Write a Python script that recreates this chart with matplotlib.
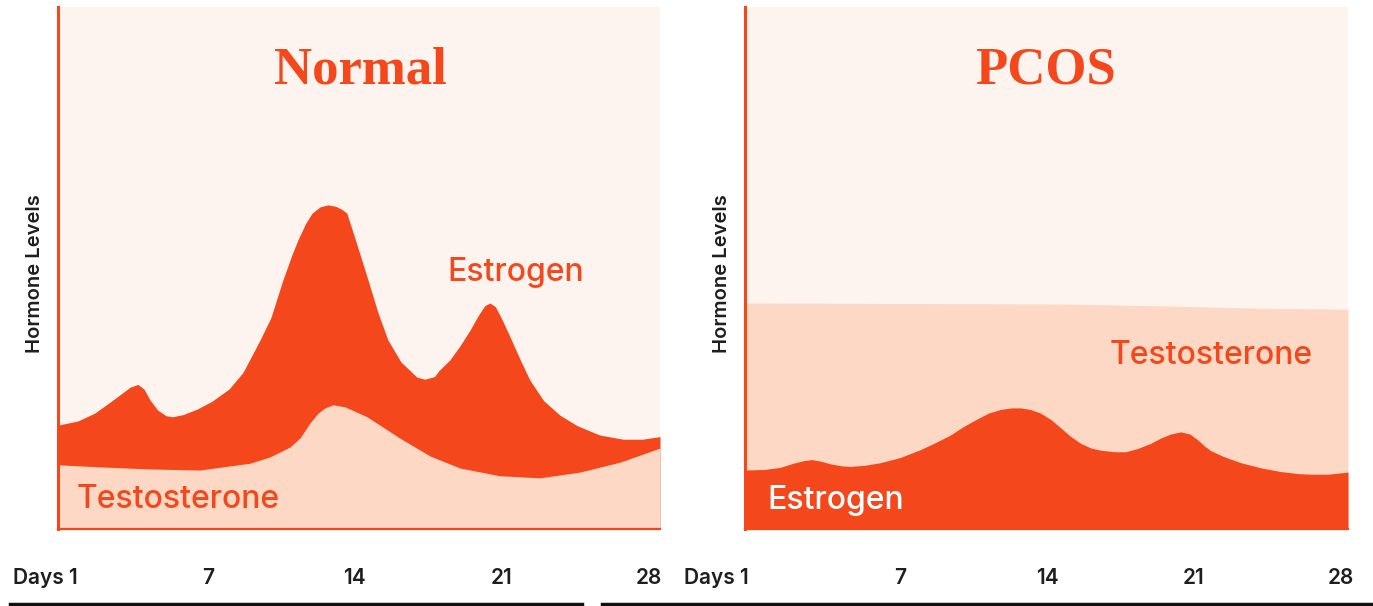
import matplotlib.pyplot as plt
from matplotlib.lines import Line2D
import matplotlib.transforms as mtransforms

# colours
ORANGE = "#F4481C"
PEACH = "#FCD8C5"
BG = "#FEF4EF"

# ---- Normal cycle ----
normal_e_days = [-0.15, 0.8, 1.6, 2.33, 2.9, 3.3, 3.66, 3.95, 4.24, 4.6, 5.0, 5.3, 5.8, 6.5,
                 7.2, 8.0, 8.67, 9.48, 10.0, 10.57, 11.0, 11.29, 11.65, 11.96, 12.34, 12.72,
                 13.1, 13.4, 13.62, 14.1, 14.63, 15.1, 15.58, 16.2, 16.96, 17.34, 17.8, 18.0,
                 18.53, 19.0, 19.49, 19.9, 20.2, 20.44, 20.7, 21.0, 21.4, 21.9, 22.35, 23.0,
                 23.78, 24.6, 25.68, 26.8, 27.7, 28.55]
normal_e_vals = [19.9, 20.7, 22.2, 24.3, 26.0, 27.2, 27.7, 26.8, 24.7, 22.8, 21.7, 21.5, 21.9,
                 23.0, 24.5, 26.8, 30.0, 36.2, 40.5, 47.7, 52.5, 55.4, 58.5, 60.5, 61.7, 62.1,
                 61.8, 61.2, 60.5, 54.5, 47.7, 41.5, 36.2, 32.0, 29.1, 28.7, 29.2, 30.3,
                 32.4, 35.0, 38.1, 41.0, 42.8, 43.3, 42.6, 40.3, 36.8, 32.3, 28.5, 24.6,
                 21.8, 19.8, 18.0, 17.2, 17.2, 17.7]

normal_t_days = [-0.15, 1.85, 4.24, 6.62, 9.0, 9.95, 10.91, 11.4, 11.86, 12.25, 12.58, 12.96,
                 13.53, 14.58, 16.15, 17.58, 19.0, 20.9, 22.82, 24.73, 26.64, 28.55]
normal_t_vals = [12.3, 11.9, 11.5, 11.3, 12.6, 13.8, 15.7, 17.5, 20.3, 22.2, 23.2, 23.8,
                 23.4, 21.5, 17.4, 14.0, 11.7, 10.2, 9.8, 10.9, 12.8, 15.5]

# ---- PCOS ----
pcos_e_days = [-0.4, 0.5, 1.27, 1.9, 2.4, 2.8, 3.2, 3.66, 4.2, 4.62, 5.3, 6.05, 7.0, 7.96,
               8.7, 9.39, 10.0, 10.58, 11.2, 11.78, 12.3, 12.73, 13.2, 13.69, 14.2, 14.64,
               15.1, 15.6, 16.1, 16.55, 17.2, 17.74, 18.3, 18.93, 19.4, 19.89, 20.37, 20.8,
               21.2, 21.5, 21.8, 22.4, 23.23, 24.2, 25.14, 26.0, 26.57, 27.4, 28.34]
pcos_e_vals = [11.3, 11.4, 11.8, 12.6, 13.1, 13.3, 13.0, 12.5, 12.1, 12.0, 12.2, 12.7, 13.7,
               15.2, 16.6, 18.0, 19.6, 20.9, 22.2, 22.9, 23.2, 23.2, 22.9, 22.2, 20.9, 19.4,
               17.8, 16.4, 15.5, 15.1, 14.8, 14.8, 15.4, 16.4, 17.4, 18.2, 18.6, 18.2,
               17.0, 15.9, 15.0, 13.9, 12.7, 11.7, 11.0, 10.6, 10.5, 10.5, 10.9]

pcos_t_days = [-0.4, 7, 15, 20, 24, 28.34]
pcos_t_vals = [43.3, 43.2, 43.1, 42.7, 42.3, 42.1]

day_ticks = [1, 7, 14, 21, 28]
day_labels = ["Days 1", "7", "14", "21", "28"]

fig = plt.figure(figsize=(13.73, 6.06), dpi=100)
fig.patch.set_facecolor("white")

ax1 = fig.add_axes([0.04224, 0.12706, 0.43846, 0.8614])
ax2 = fig.add_axes([0.5426, 0.12706, 0.4392, 0.8614])

for ax, xl in [(ax1, (-0.15, 28.55)), (ax2, (-0.4, 28.34))]:
    ax.set_facecolor(BG)
    ax.set_xlim(*xl)
    ax.set_ylim(0, 100)
    ax.set_xticks([])
    ax.set_yticks([])
    for s in ["top", "right"]:
        ax.spines[s].set_visible(False)
    ax.spines["left"].set_color(ORANGE)
    ax.spines["left"].set_linewidth(2.2)
    ax.spines["bottom"].set_color(ORANGE)
    ax.spines["bottom"].set_linewidth(1.6)

# normal: estrogen band over testosterone
ax1.fill_between(normal_e_days, 0, normal_e_vals, color=ORANGE, lw=0)
ax1.fill_between(normal_t_days, 0, normal_t_vals, color=PEACH, lw=0)

# pcos: high testosterone, estrogen on top
ax2.fill_between(pcos_t_days, 0, pcos_t_vals, color=PEACH, lw=0)
ax2.fill_between(pcos_e_days, 0, pcos_e_vals, color=ORANGE, lw=0)

title_font = dict(family="Liberation Serif", weight="bold", size=38, color=ORANGE)
ax1.text(0.502, 0.878, "Normal", transform=ax1.transAxes, ha="center", va="center", **title_font)
ax2.text(0.499, 0.878, "PCOS", transform=ax2.transAxes, ha="center", va="center", **title_font)

lab = dict(family="Inter", weight="medium", size=23)
ax1.text(0.761, 0.492, "Estrogen", transform=ax1.transAxes, ha="center", va="center",
         color=ORANGE, **lab)
ax1.text(0.031, 0.057, "Testosterone", transform=ax1.transAxes, ha="left", va="center",
         color=ORANGE, **lab)
ax2.text(0.773, 0.333, "Testosterone", transform=ax2.transAxes, ha="center", va="center",
         color=ORANGE, **lab)
ax2.text(0.037, 0.054, "Estrogen", transform=ax2.transAxes, ha="left", va="center",
         color="white", **lab)

for xf in [0.0255, 0.5259]:
    fig.text(xf, 0.548, "Hormone Levels", rotation=90, ha="center", va="center",
             family="Inter", weight="semibold", size=14.5, color="#1e1e1e")

# day labels under each panel
for ax, off in [(ax1, 0.0), (ax2, -1.0)]:
    tr = mtransforms.blended_transform_factory(ax.transData, ax.transAxes)
    for d, l in zip(day_ticks, day_labels):
        if l.startswith("Days"):
            ax.text(d - 0.2 + off, -0.094, l, transform=tr, ha="right", va="center",
                    family="Inter", weight="semibold", size=15, color="#1e1e1e")
        else:
            ax.text(d, -0.094, l, transform=tr, ha="center", va="center",
                    family="Inter", weight="semibold", size=15, color="#1e1e1e")

fig.add_artist(Line2D([10 / 1373, 582 / 1373], [0.0025, 0.0025], color="#111111", lw=2.5))
fig.add_artist(Line2D([602 / 1373, 1.0], [0.0025, 0.0025], color="#111111", lw=2.5))

fig.savefig("out.png", dpi=100)
